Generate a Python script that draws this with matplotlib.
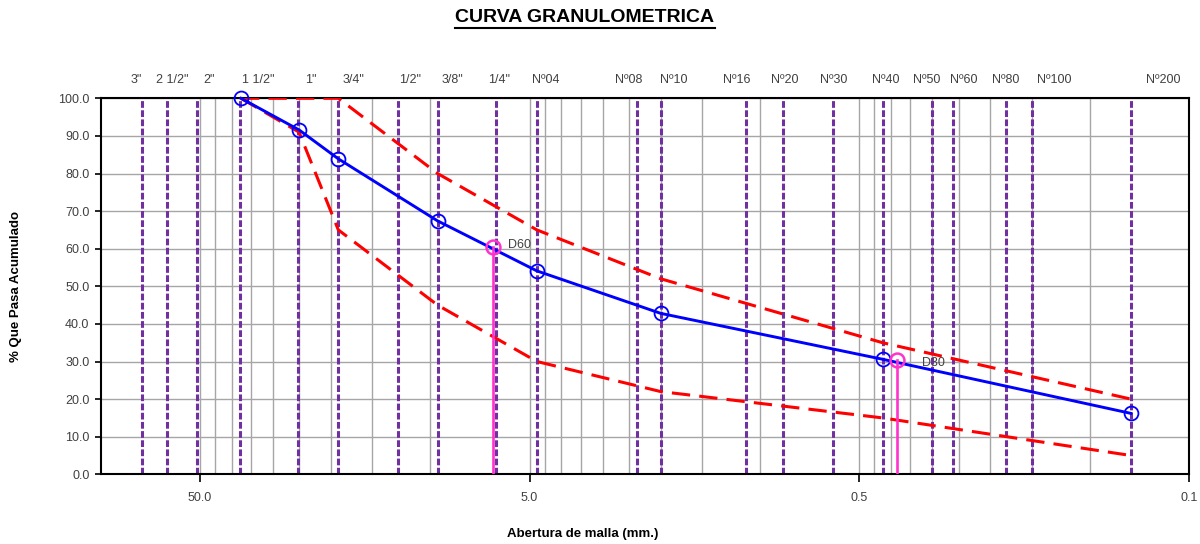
import matplotlib
matplotlib.use('Agg')
import matplotlib.pyplot as plt
from matplotlib.lines import Line2D
from matplotlib.ticker import FixedLocator, NullFormatter

# tamices (abertura en mm)
sieve_names = ['3"', '2 1/2"', '2"', '1 1/2"', '1"', '3/4"', '1/2"', '3/8"', '1/4"', 'Nº04',
               'Nº08', 'Nº10', 'Nº16', 'Nº20', 'Nº30', 'Nº40', 'Nº50', 'Nº60', 'Nº80', 'Nº100', 'Nº200']
sieve_mm = [75.0, 63.0, 50.8, 37.7, 25.1, 19.0, 12.5, 9.5, 6.3, 4.75,
            2.36, 2.0, 1.1, 0.85, 0.6, 0.425, 0.3, 0.26, 0.18, 0.15, 0.075]

# curva del ensayo
test_mm = [37.5, 25.0, 19.0, 9.5, 4.75, 2.0, 0.425, 0.075]
test_pass = [100.0, 91.6, 83.9, 67.4, 54.1, 42.8, 30.6, 16.2]

# huso granulometrico
upper_pass = [100.0, 100.0, 100.0, 80.0, 65.0, 52.0, 35.0, 20.0]
lower_pass = [100.0, 91.0, 65.0, 45.0, 30.0, 22.0, 15.0, 5.0]

# diametros caracteristicos
d_names = ['D60', 'D30']
d_mm = [6.45, 0.385]
d_pass = [60.5, 30.4]

x_ticks = [50, 5, 0.5, 0.05]
x_ticklabels = ['50.0', '5.0', '0.5', '0.1']
y_ticks = [0, 10, 20, 30, 40, 50, 60, 70, 80, 90, 100]

# desplazamiento (px) de las etiquetas de tamiz respecto a su linea
label_dx = [-5, 6, 12, 18, 12, 15, 12, 15, 3, 9, -8, 13, -10, 1, 1, 3, -6, 11, 0, 23, 32]

regular = ['Liberation Sans', 'DejaVu Sans']

fig = plt.figure(figsize=(12, 5.44), dpi=100)
ax = fig.add_axes([100.5 / 1200, 1 - 474.3 / 544, (1189 - 100.5) / 1200, (474.3 - 98.3) / 544])

ax.set_xscale('log')
ax.set_xlim(100, 0.05)
ax.set_ylim(0, 100)

minor = []
for base in [0.05, 0.5, 5]:
    minor += [base * k for k in range(2, 10)]
ax.xaxis.set_major_locator(FixedLocator(x_ticks))
ax.xaxis.set_minor_locator(FixedLocator(minor))
ax.xaxis.set_minor_formatter(NullFormatter())
ax.set_xticklabels(x_ticklabels)
ax.set_yticks(y_ticks)
ax.set_yticklabels(['%.1f' % v for v in y_ticks])

for lab in ax.get_xticklabels() + ax.get_yticklabels():
    lab.set_family(regular)
    lab.set_fontsize(9)
    lab.set_color('#404040')

ax.tick_params(axis='x', which='major', direction='out', length=6, width=1.2, pad=7)
ax.tick_params(axis='x', which='minor', length=0)
ax.tick_params(axis='y', direction='out', length=4, width=1.2, pad=4)

ax.grid(True, which='both', axis='x', color='#a6a6a6', lw=1.0, zorder=0)
ax.grid(True, which='major', axis='y', color='#a6a6a6', lw=1.0, zorder=0)
ax.set_axisbelow(True)
for s in ax.spines.values():
    s.set_linewidth(1.5)
    s.set_color('black')

# lineas de tamices
for name, d, dx in zip(sieve_names, sieve_mm, label_dx):
    ax.axvline(d, color='#7030a0', lw=2.2, ls=(0, (2.2, 0.8)), zorder=2)
    ax.annotate(name, xy=(d, 1), xycoords=ax.get_xaxis_transform(),
                xytext=(dx * 0.72, 13), textcoords='offset points',
                ha='center', va='center', fontsize=9, color='#404040',
                family=regular, annotation_clip=False)

# huso
ax.plot(test_mm, upper_pass, color='#ff0000', lw=2.2, ls=(0, (6, 3)), zorder=3)
ax.plot(test_mm, lower_pass, color='#ff0000', lw=2.2, ls=(0, (6, 3)), zorder=3)

# curva del ensayo
ax.plot(test_mm, test_pass, color='#0000ff', lw=2.1, marker='o', ms=10,
        mfc='none', mec='#0000ff', mew=1.3, zorder=5, clip_on=False)

# D60 y D30
text_dx = [15, 25]
text_dy = [2, -3]
for name, d, p, tdx, tdy in zip(d_names, d_mm, d_pass, text_dx, text_dy):
    ax.plot([d, d], [0, p], color='#ff33cc', lw=1.9, zorder=6)
    ax.plot([d], [p], marker='o', ms=10, mfc='none', mec='#ff33cc', mew=1.8, zorder=6)
    ax.annotate(name, xy=(d, p), xytext=(tdx * 0.72, tdy * 0.72), textcoords='offset points',
                ha='left', va='center', fontsize=9, color='#404040', family=regular, zorder=7)

fig.text(583 / 1200, 1 - 534 / 544, 'Abertura de malla (mm.)', ha='center', va='center',
         fontsize=9.5, fontweight='bold', family=regular)
fig.text(16 / 1200, 1 - 286 / 544, '% Que Pasa Acumulado', ha='center', va='center',
         rotation=90, fontsize=9.5, fontweight='bold', family=regular)

title = fig.text(585 / 1200, 1 - 18 / 544, 'CURVA GRANULOMETRICA', ha='center', va='center',
                 fontsize=14, fontweight='bold', family=regular)

# subrayado del titulo
fig.canvas.draw()
bb = title.get_window_extent()
yl = (bb.y0 - 1) / fig.bbox.height
fig.add_artist(Line2D([bb.x0 / fig.bbox.width, bb.x1 / fig.bbox.width], [yl, yl],
                      transform=fig.transFigure, color='black', lw=1.5))

fig.savefig('out.png', dpi=100)
